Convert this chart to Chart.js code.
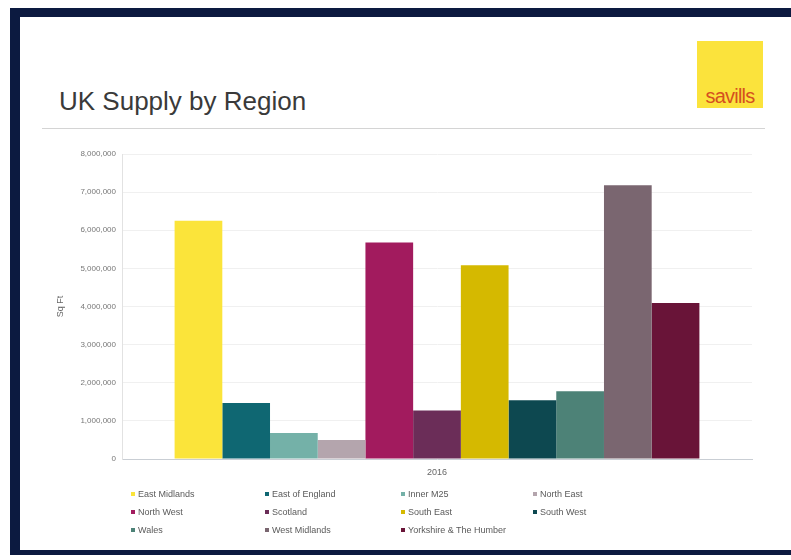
<!DOCTYPE html>
<html>
<head>
<meta charset="utf-8">
<script src="https://cdn.jsdelivr.net/npm/chart.js@4/dist/chart.umd.min.js"></script>
<style>
  html, body { margin: 0; padding: 0; background: #ffffff; }
  body { width: 791px; height: 560px; position: relative; overflow: hidden; font-family: "Liberation Sans", Arial, sans-serif; }
  #frame {
    position: absolute; left: 10px; top: 8px; width: 791px; height: 547px;
    border-left: 10px solid #0c1a40; border-top: 9px solid #0c1a40; border-bottom: 5px solid #0c1a40;
    box-sizing: border-box; background: #ffffff;
  }
  #title {
    position: absolute; left: 59px; top: 86px; font-size: 26px; color: #3a3a3a; white-space: nowrap;
  }
  #rule { position: absolute; left: 42px; top: 128px; width: 723px; height: 1px; background: #d4d4d4; }
  #logo {
    position: absolute; left: 697px; top: 41px; width: 66px; height: 67px; background: #fbe33c;
  }
  #logo span {
    position: absolute; left: 0; width: 66px; top: 44px; text-align: center;
    font-family: "Liberation Sans Narrow", "Liberation Sans", Arial, sans-serif;
    font-size: 20px; color: #d5501f; letter-spacing: -0.8px;
  }
  #chart { position: absolute; left: 0; top: 0; }
  #legend { position: absolute; left: 0; top: 0; width: 791px; height: 560px; pointer-events: none; }
  .item { position: absolute; font-size: 9px; color: #5a5a5a; white-space: nowrap; line-height: 10px; }
  .item i { display: inline-block; width: 4px; height: 4px; margin-right: 3px; vertical-align: 1px; }
</style>
</head>
<body>
<div id="frame"></div>
<div id="title">UK Supply by Region</div>
<div id="rule"></div>
<div id="logo"><span>savills</span></div>
<canvas id="chart" width="791" height="560"></canvas>
<div id="legend"></div>
<script>
// Supply in sq ft by region, 2016
const categories = ['2016'];
const regions = [
  'East Midlands', 'East of England', 'Inner M25', 'North East',
  'North West', 'Scotland', 'South East', 'South West',
  'Wales', 'West Midlands', 'Yorkshire & The Humber'
];
const supply2016 = [
  6250000, 1470000, 680000, 500000,
  5680000, 1270000, 5080000, 1540000,
  1780000, 7180000, 4090000
];
const regionColors = [
  '#fbe43a', '#0f6772', '#74b1a8', '#b4a5ad',
  '#a21b5e', '#6b2d58', '#d5b900', '#0d4850',
  '#4d8277', '#7a6670', '#691438'
];
const yTicks = [0, 1000000, 2000000, 3000000, 4000000, 5000000, 6000000, 7000000, 8000000];

const datasets = regions.map((name, i) => ({
  label: name,
  data: [supply2016[i]],
  backgroundColor: regionColors[i],
  borderWidth: 0
}));

const chart = new Chart(document.getElementById('chart'), {
  type: 'bar',
  data: { labels: categories, datasets },
  options: {
    responsive: false,
    animation: false,
    layout: { padding: { left: 53, top: 154, right: 39, bottom: 81 } },
    datasets: { bar: { categoryPercentage: 0.833, barPercentage: 1.0 } },
    plugins: { legend: { display: false }, tooltip: { enabled: false } },
    scales: {
      x: {
        grid: { display: false, drawTicks: false },
        border: { display: true, color: '#c9ced4', width: 1 },
        ticks: { color: '#666', font: { family: 'Liberation Sans', size: 9 }, padding: 8 },
        afterFit(scale) { scale.height = 20; }
      },
      y: {
        min: 0, max: 8000000,
        afterBuildTicks(scale) { scale.ticks = yTicks.map(v => ({ value: v })); },
        grid: { color: '#f0f0f0', drawTicks: false },
        border: { display: true, color: '#e2e2e2', width: 1 },
        ticks: {
          color: '#777', font: { family: 'Liberation Sans', size: 8 }, padding: 6,
          callback: v => v.toLocaleString('en-GB')
        },
        title: { display: true, text: 'Sq Ft', color: '#666', font: { family: 'Liberation Sans', size: 9 }, padding: 2 },
        afterFit(scale) { scale.width = 69; }
      }
    }
  }
});

// Legend laid out in four columns below the plot
const legendEl = document.getElementById('legend');
const colX = [131, 265, 401, 533];
const rowY = [489, 507, 525];
chart.data.datasets.forEach((ds, i) => {
  const el = document.createElement('div');
  el.className = 'item';
  el.style.left = colX[i % 4] + 'px';
  el.style.top = rowY[Math.floor(i / 4)] + 'px';
  el.innerHTML = '<i style="background:' + ds.backgroundColor + '"></i>' + ds.label;
  legendEl.appendChild(el);
});
</script>
</body>
</html>
